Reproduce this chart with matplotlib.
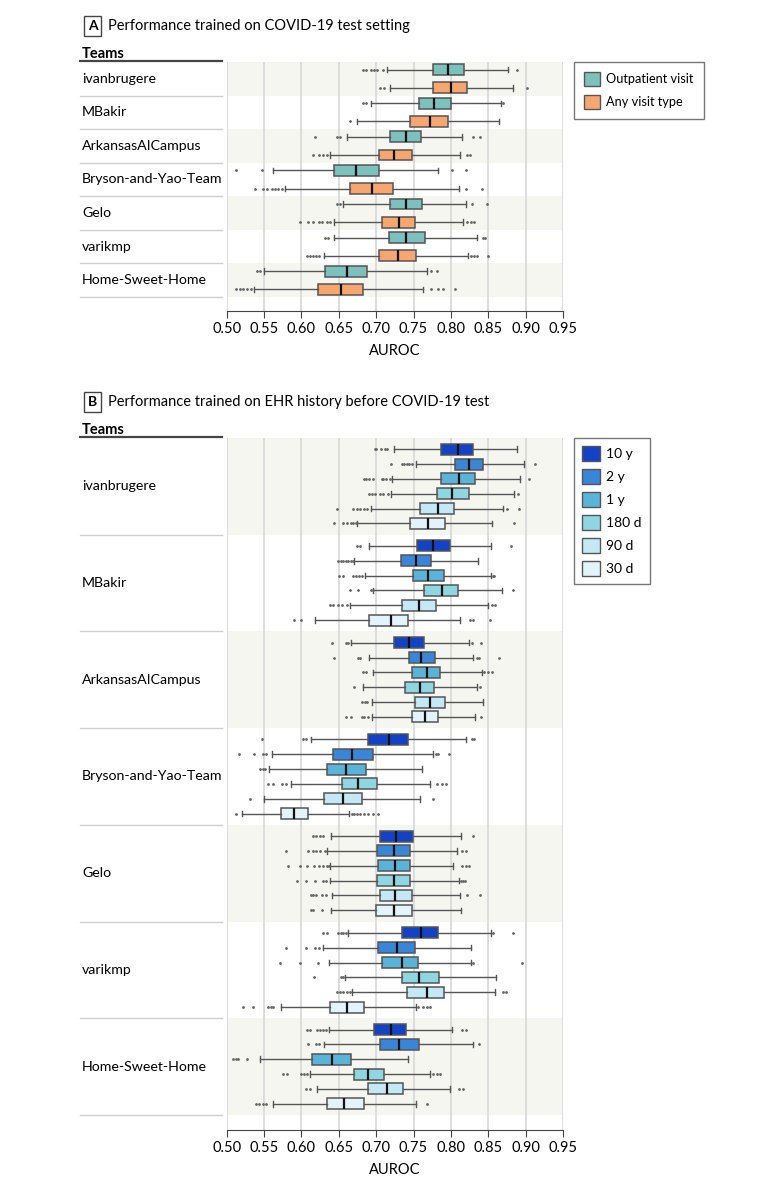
import matplotlib
matplotlib.use('Agg')
import numpy as np
import matplotlib.pyplot as plt
import matplotlib.transforms as mtransforms
from matplotlib.patches import Patch
from matplotlib.lines import Line2D

plt.rcParams['font.family'] = ['Lato', 'DejaVu Sans']

teams = ['ivanbrugere', 'MBakir', 'ArkansasAICampus', 'Bryson-and-Yao-Team',
         'Gelo', 'varikmp', 'Home-Sweet-Home']
ticks = [0.50, 0.55, 0.60, 0.65, 0.70, 0.75, 0.80, 0.85, 0.90, 0.95]

# panel A: [whisker low, q1, median, q3, whisker high] per team
a_out = [[0.7145, 0.7757, 0.7957, 0.8171, 0.8769],
         [0.6931, 0.7569, 0.7779, 0.8006, 0.8666],
         [0.661, 0.719, 0.740, 0.7605, 0.8153],
         [0.5624, 0.643, 0.6726, 0.7034, 0.783],
         [0.655, 0.7186, 0.7395, 0.761, 0.8207],
         [0.644, 0.717, 0.740, 0.766, 0.8345],
         [0.5495, 0.632, 0.6606, 0.6873, 0.7685]]
a_out_fl = [[0.683, 0.687, 0.693, 0.697, 0.701, 0.709, 0.888],
            [0.683, 0.687, 0.870],
            [0.618, 0.647, 0.651, 0.830, 0.839],
            [0.513, 0.547, 0.801, 0.820],
            [0.648, 0.652, 0.828, 0.848],
            [0.6316, 0.636, 0.8435, 0.8457],
            [0.540, 0.5446, 0.774, 0.781]]
a_any = [[0.7186, 0.7765, 0.7997, 0.8211, 0.8836],
         [0.674, 0.7458, 0.772, 0.7957, 0.8649],
         [0.638, 0.7034, 0.7244, 0.748, 0.8118],
         [0.5785, 0.6646, 0.695, 0.723, 0.8104],
         [0.643, 0.708, 0.731, 0.7516, 0.8158],
         [0.6307, 0.7043, 0.7288, 0.753, 0.8225],
         [0.536, 0.6227, 0.653, 0.682, 0.763]]
a_any_fl = [[0.705, 0.710, 0.9014],
            [0.665],
            [0.615, 0.623, 0.629, 0.634, 0.821, 0.826],
            [0.538, 0.549, 0.5535, 0.560, 0.5647, 0.569, 0.5736, 0.820, 0.841],
            [0.598, 0.609, 0.616, 0.623, 0.627, 0.634, 0.638, 0.822, 0.8265, 0.831],
            [0.607, 0.6115, 0.616, 0.620, 0.624, 0.8265, 0.831, 0.835, 0.849],
            [0.513, 0.518, 0.522, 0.527, 0.533, 0.774, 0.783, 0.790, 0.8055]]

# panel B
b_10y = [[0.724, 0.787, 0.809, 0.8296, 0.889],
         [0.691, 0.7547, 0.7765, 0.7988, 0.854],
         [0.6664, 0.724, 0.7435, 0.7636, 0.8238],
         [0.6124, 0.6887, 0.7172, 0.742, 0.8203],
         [0.639, 0.7056, 0.727, 0.7498, 0.8131],
         [0.6628, 0.734, 0.7605, 0.7832, 0.8533],
         [0.6365, 0.6967, 0.7195, 0.7395, 0.802]]
b_10y_fl = [[0.698, 0.700, 0.707, 0.712, 0.714],
            [0.675, 0.678, 0.881],
            [0.6405, 0.6597, 0.662, 0.828, 0.840],
            [0.5468, 0.6026, 0.606, 0.828, 0.831],
            [0.615, 0.620, 0.625, 0.629, 0.830],
            [0.629, 0.6347, 0.6494, 0.6525, 0.656, 0.6597, 0.857, 0.8827],
            [0.608, 0.6115, 0.6213, 0.625, 0.6294, 0.633, 0.8154, 0.820]]
b_2y = [[0.753, 0.806, 0.8247, 0.843, 0.898],
        [0.671, 0.7333, 0.7533, 0.774, 0.8368],
        [0.691, 0.7435, 0.7605, 0.7788, 0.830],
        [0.561, 0.6418, 0.668, 0.696, 0.7765],
        [0.6347, 0.7007, 0.724, 0.7453, 0.8087],
        [0.629, 0.7025, 0.7275, 0.7525, 0.8265],
        [0.630, 0.705, 0.731, 0.7574, 0.830]]
b_2y_fl = [[0.7195, 0.734, 0.737, 0.741, 0.744, 0.7475, 0.912],
           [0.6494, 0.6525, 0.656, 0.6597, 0.6628, 0.6664, 0.6686],
           [0.6436, 0.676, 0.679, 0.8345, 0.838, 0.864],
           [0.517, 0.537, 0.549, 0.5526, 0.780, 0.783, 0.798],
           [0.579, 0.609, 0.615, 0.620, 0.625, 0.6316, 0.8154, 0.820],
           [0.580, 0.6057, 0.618, 0.624],
           [0.609, 0.620, 0.624, 0.838]]
b_1y = [[0.7208, 0.787, 0.811, 0.832, 0.8925],
        [0.6856, 0.749, 0.770, 0.791, 0.8533],
        [0.6954, 0.7484, 0.7685, 0.786, 0.8412],
        [0.557, 0.6347, 0.6597, 0.6869, 0.761],
        [0.638, 0.7025, 0.7253, 0.745, 0.8033],
        [0.6365, 0.708, 0.7346, 0.7565, 0.8265],
        [0.545, 0.6142, 0.6405, 0.666, 0.742]]
b_1y_fl = [[0.684, 0.687, 0.690, 0.696, 0.7074, 0.7096, 0.7132, 0.7186, 0.905],
           [0.6508, 0.656, 0.6686, 0.673, 0.6775, 0.6806, 0.856, 0.8577],
           [0.682, 0.6864, 0.8443, 0.849, 0.8546],
           [0.5446, 0.548, 0.551],
           [0.5825, 0.598, 0.608, 0.617, 0.6236, 0.629, 0.634, 0.637, 0.8154, 0.820, 0.8243],
           [0.5714, 0.598, 0.6218, 0.830, 0.8956],
           [0.509, 0.5125, 0.5156, 0.527]]
b_180d = [[0.720, 0.782, 0.8015, 0.824, 0.885],
          [0.696, 0.7645, 0.788, 0.810, 0.868],
          [0.683, 0.738, 0.758, 0.777, 0.8345],
          [0.5856, 0.654, 0.676, 0.7016, 0.772],
          [0.638, 0.7016, 0.724, 0.7458, 0.811],
          [0.6583, 0.734, 0.7574, 0.7846, 0.860],
          [0.611, 0.6704, 0.6887, 0.711, 0.772]]
b_180d_fl = [[0.690, 0.694, 0.698, 0.705, 0.7096, 0.716, 0.8894],
             [0.665, 0.676, 0.6927, 0.6954, 0.8836],
             [0.6704, 0.839],
             [0.5557, 0.5616, 0.5745, 0.579, 0.781, 0.7877, 0.793],
             [0.5937, 0.606, 0.618, 0.629, 0.633, 0.8131, 0.816, 0.819],
             [0.6169, 0.6525, 0.656],
             [0.5758, 0.5803, 0.599, 0.6035, 0.608, 0.7765, 0.781, 0.7855]]
b_90d = [[0.6927, 0.759, 0.783, 0.8037, 0.870],
         [0.665, 0.7346, 0.757, 0.7806, 0.849],
         [0.695, 0.7525, 0.772, 0.7917, 0.8434],
         [0.5504, 0.6298, 0.655, 0.6815, 0.759],
         [0.6405, 0.7047, 0.7253, 0.748, 0.8127],
         [0.6677, 0.7413, 0.7685, 0.7904, 0.8595],
         [0.621, 0.6896, 0.7145, 0.7364, 0.7993]]
b_90d_fl = [[0.647, 0.6686, 0.674, 0.678, 0.684, 0.688, 0.8756, 0.8916],
            [0.638, 0.6427, 0.6494, 0.654, 0.6606, 0.8546, 0.859],
            [0.6806, 0.685, 0.688],
            [0.531, 0.7757],
            [0.6124, 0.616, 0.620, 0.627, 0.633, 0.821, 0.839],
            [0.647, 0.6517, 0.656, 0.6606, 0.665, 0.8693, 0.8733],
            [0.606, 0.6115, 0.8113, 0.8158]]
b_30d = [[0.675, 0.745, 0.770, 0.792, 0.8546],
         [0.618, 0.691, 0.7195, 0.743, 0.8127],
         [0.694, 0.7475, 0.765, 0.7832, 0.832],
         [0.5205, 0.5723, 0.590, 0.6093, 0.664],
         [0.6396, 0.700, 0.724, 0.7476, 0.8136],
         [0.5723, 0.6387, 0.661, 0.6842, 0.7529],
         [0.5624, 0.6347, 0.6575, 0.6838, 0.7529]]
b_30d_fl = [[0.6436, 0.656, 0.6606, 0.666, 0.6695, 0.6726, 0.885],
            [0.590, 0.600, 0.8256, 0.830, 0.852],
            [0.6597, 0.6664, 0.6806, 0.684, 0.6896, 0.840],
            [0.512, 0.6673, 0.670, 0.674, 0.678, 0.684, 0.6896, 0.6954, 0.702],
            [0.6124, 0.616, 0.627],
            [0.5214, 0.5357, 0.5557, 0.5589, 0.5624, 0.7565, 0.763, 0.7685, 0.772],
            [0.539, 0.5437, 0.548, 0.5526, 0.7676]]

a_labels = ['Outpatient visit', 'Any visit type']
a_colors = ['#7cc1bd', '#f8a66f']
b_labels = ['10 y', '2 y', '1 y', '180 d', '90 d', '30 d']
b_colors = ['#1442c6', '#3985d7', '#5ab3d9', '#8ed6e2', '#c4e8f5', '#e2f3fb']

W, H = 780, 1187
fig = plt.figure(figsize=(W / 100, H / 100), dpi=100)


def fx(px):
    return px / W


def fy(py):
    return 1 - py / H


def stats(rows, fls):
    return [dict(whislo=r[0], q1=r[1], med=r[2], q3=r[3], whishi=r[4], fliers=f)
            for r, f in zip(rows, fls)]


def panel(top, band_bottom, axis_y, series, colors, offsets, width, labels,
          letter, title, leg_fs, leg_hh, leg_sp, leg_pad):
    ax = fig.add_axes([fx(226.7), fy(axis_y), fx(563) - fx(226.7), fy(top) - fy(axis_y)])
    n = len(teams)
    unit = (band_bottom - top) / n
    gap = (axis_y - band_bottom) / unit
    for i in range(n):
        if i % 2 == 0:
            ax.axhspan(i - 0.5, i + 0.5, color='#f6f6f1', zorder=0, lw=0)
    for (rows, fls), col, off in zip(series, colors, offsets):
        pos = [i + off for i in range(n)]
        ax.bxp(stats(rows, fls), positions=pos, widths=width, vert=False,
               patch_artist=True, capwidths=width * 0.5,
               boxprops=dict(facecolor=col, edgecolor='#555555', lw=1.1),
               medianprops=dict(color='#111111', lw=1.6),
               whiskerprops=dict(color='#555555', lw=1),
               capprops=dict(color='#555555', lw=1),
               flierprops=dict(marker='.', markersize=2.0, markerfacecolor='#666666',
                               markeredgecolor='#666666', linestyle='none'))
    ax.set_xlim(0.5, 0.95)
    ax.set_ylim(n - 0.5 + gap, -0.5)
    ax.set_xticks(ticks)
    ax.set_xticklabels(['%.2f' % t for t in ticks], fontsize=10.5)
    ax.set_yticks([])
    ax.xaxis.grid(True, color='#dadada', lw=1.3, zorder=0.5)
    ax.set_axisbelow(True)
    for s in ['top', 'right', 'left']:
        ax.spines[s].set_visible(False)
    ax.spines['bottom'].set_color('#444444')
    ax.tick_params(axis='x', length=5, color='#444444', pad=3)
    ax.set_xlabel('AUROC', fontsize=10.5, labelpad=6)

    tr = mtransforms.blended_transform_factory(fig.transFigure, ax.transData)
    for i, t in enumerate(teams):
        ax.text(fx(82), i, t, transform=tr, va='center', ha='left', fontsize=10.2)
        ax.add_line(Line2D([fx(80), fx(222)], [i + 0.5, i + 0.5], transform=tr,
                           color='#cfcfcf', lw=1, clip_on=False))
    fig.text(fx(82), fy(top - 8), 'Teams', fontsize=10.5, fontweight='bold',
             va='center', ha='left')
    fig.add_artist(Line2D([fx(80), fx(222)], [fy(top - 1), fy(top - 1)],
                          color='#444444', lw=1.6))
    fig.text(fx(92.5), fy(top - 36), letter, fontsize=10, fontweight='bold',
             va='center', ha='center',
             bbox=dict(boxstyle='square,pad=0.3', fc='white', ec='#444444', lw=1))
    fig.text(fx(108), fy(top - 36), title, fontsize=10.5, va='center', ha='left')

    handles = [Patch(facecolor=c, edgecolor='#555555', label=l)
               for c, l in zip(colors, labels)]
    ax.legend(handles=handles, loc='upper left',
              bbox_to_anchor=((574 - 226.7) / (563 - 226.7), 1.0),
              borderaxespad=0, fancybox=False, edgecolor='#555555',
              handlelength=leg_hh, handleheight=leg_hh, fontsize=leg_fs,
              labelspacing=leg_sp, handletextpad=0.45, borderpad=leg_pad)
    ax.get_legend().get_frame().set_linewidth(1)
    return ax


panel(62, 297, 311, [(a_out, a_out_fl), (a_any, a_any_fl)], a_colors,
      [-0.27, 0.27], 0.32, a_labels, 'A',
      'Performance trained on COVID-19 test setting', 9.2, 1.25, 0.75, 0.8)

b_series = [(b_10y, b_10y_fl), (b_2y, b_2y_fl), (b_1y, b_1y_fl),
            (b_180d, b_180d_fl), (b_90d, b_90d_fl), (b_30d, b_30d_fl)]
b_step = 0.1536
panel(438, 1115, 1130, b_series, b_colors,
      [(k - 2.5) * b_step for k in range(6)], 0.113, b_labels, 'B',
      'Performance trained on EHR history before COVID-19 test', 10, 1.25, 0.6, 0.6)

fig.savefig('out.png', dpi=100)
